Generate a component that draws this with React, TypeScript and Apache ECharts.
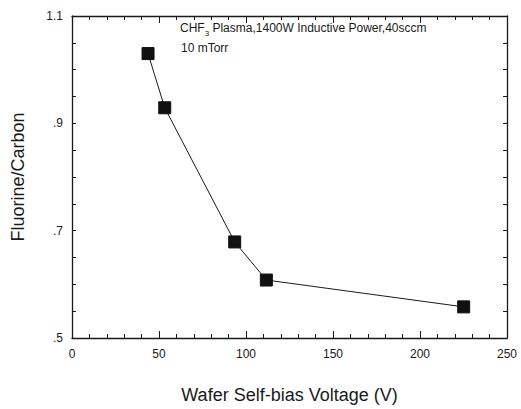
import React, { useEffect, useRef } from "react";
import * as echarts from "echarts";

// Wafer self-bias voltage (V) and the measured fluorine/carbon ratio
const biasVoltage = [43.7, 53.3, 93.5, 111.7, 225.1];
const fluorineCarbon = [1.03, 0.929, 0.679, 0.608, 0.558];

const yLabelValues = [0.5, 0.7, 0.9, 1.1];
const xTitle = "Wafer Self-bias Voltage (V)";
const yTitle = "Fluorine/Carbon";
const noteLine2 = "10 mTorr";

const FONT = "Liberation Sans, Arial, Helvetica, sans-serif";
const INK = "#1a1a1a";

function yLabel(v: number): string {
  const r = Math.round(v * 100) / 100;
  if (!yLabelValues.some((t) => Math.abs(t - r) < 1e-6)) return "";
  return r.toString().replace(/^0\./, ".");
}

export default function App() {
  const ref = useRef<HTMLDivElement>(null);

  useEffect(() => {
    if (!ref.current) return;
    const chart = echarts.init(ref.current, null, { renderer: "svg" });

    const xBase = {
      type: "value" as const,
      min: 0,
      max: 250,
      interval: 50,
      axisLine: { show: true, onZero: false, lineStyle: { color: INK, width: 1.3 } },
      axisTick: { show: true, inside: true, length: 7, lineStyle: { color: INK, width: 1 } },
      minorTick: { show: true, splitNumber: 5, length: 4, lineStyle: { color: INK, width: 1 } },
      splitLine: { show: false },
    };
    const yBase = {
      type: "value" as const,
      min: 0.5,
      max: 1.1,
      interval: 0.05,
      axisLine: { show: true, onZero: false, lineStyle: { color: INK, width: 1.3 } },
      axisTick: { show: true, inside: true, length: 4, lineStyle: { color: INK, width: 1 } },
      splitLine: { show: false },
    };

    chart.setOption({
      animation: false,
      backgroundColor: "#ffffff",
      grid: { left: 72, right: 14, top: 16, bottom: 68, containLabel: false },
      xAxis: [
        {
          ...xBase,
          position: "bottom",
          name: xTitle,
          nameLocation: "middle",
          nameGap: 48,
          nameTextStyle: { fontFamily: FONT, fontSize: 18, color: INK },
          axisLabel: { fontFamily: FONT, fontSize: 12, color: INK, margin: 10 },
        },
        { ...xBase, position: "top", axisLabel: { show: false } },
      ],
      yAxis: [
        {
          ...yBase,
          position: "left",
          name: yTitle,
          nameLocation: "middle",
          nameGap: 45,
          nameRotate: 90,
          nameTextStyle: { fontFamily: FONT, fontSize: 18, color: INK },
          axisLabel: {
            fontFamily: FONT,
            fontSize: 12,
            color: INK,
            margin: 9,
            formatter: (v: number) => yLabel(v),
          },
        },
        { ...yBase, position: "right", axisLabel: { show: false } },
      ],
      graphic: [
        {
          type: "text",
          left: 180,
          top: 21,
          style: {
            text: "{a|CHF}{s|3}{a| Plasma,1400W Inductive Power,40sccm}",
            rich: {
              a: { fontFamily: FONT, fontSize: 12, fill: INK, lineHeight: 15, verticalAlign: "top" },
              s: { fontFamily: FONT, fontSize: 8, fill: INK, lineHeight: 15, padding: [8, 0, 0, 0] },
            },
          },
        },
        {
          type: "text",
          left: 181,
          top: 42,
          style: { text: noteLine2, fontFamily: FONT, fontSize: 12, fill: INK },
        },
      ],
      series: [
        {
          type: "line",
          xAxisIndex: 0,
          yAxisIndex: 0,
          data: biasVoltage.map((x, i) => [x, fluorineCarbon[i]]),
          symbol: "rect",
          symbolSize: 12,
          showAllSymbol: true,
          lineStyle: { color: INK, width: 1 },
          itemStyle: { color: "#111111", borderColor: "#111111" },
        },
      ],
    });

    return () => chart.dispose();
  }, []);

  return (
    <div
      ref={ref}
      style={{ position: "fixed", left: 0, top: 0, width: 521, height: 409 }}
    />
  );
}
